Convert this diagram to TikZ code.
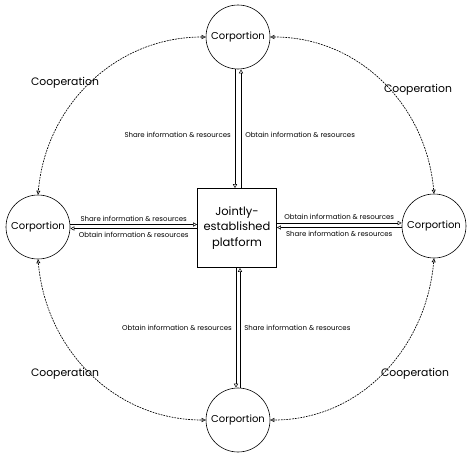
\documentclass[tikz,border=0pt]{standalone}
\usepackage{fontspec}
\setmainfont{Poppins}
\usetikzlibrary{arrows.meta}
\begin{document}
\begin{tikzpicture}[x=1pt,y=-1pt,
  corp/.style={draw, circle, line width=0.6pt, minimum size=64pt, inner sep=0pt, font=\fontsize{10}{11}\selectfont},
  plat/.style={draw, line width=0.6pt, minimum width=79pt, minimum height=79pt, inner sep=0pt, align=center, font=\fontsize{11.5}{15.5}\selectfont},
  flow/.style={line width=0.5pt, -{Triangle[open, length=4pt, width=4pt]}},
  coop/.style={line width=0.65pt, dash pattern=on 1.8pt off 1pt, {Triangle[open, length=4pt, width=4pt]}-{Triangle[open, length=4pt, width=4pt]}},
  lab/.style={font=\fontsize{7}{8}\selectfont, inner sep=1pt},
  clab/.style={font=\fontsize{10.8}{12}\selectfont}]
\useasboundingbox (0,0) rectangle (474,458);
\node[corp] (top) at (238,37) {Corportion};
\node[corp] (left) at (38,227) {Corportion};
\node[corp] (right) at (434,226) {Corportion};
\node[corp] (bot) at (238,420) {Corportion};
\node[plat] (box) at (237,228) {Jointly-\\established\\platform};
% vertical top
\draw[flow] ([xshift=-3pt]top.south) -- ([xshift=-3pt]top.south |- box.north)
  node[lab, pos=0.55, left=3pt] {Share information \& resources};
\draw[flow] ([xshift=3pt]top.south |- box.north) -- ([xshift=3pt]top.south)
  node[lab, pos=0.45, right=3pt] {Obtain information \& resources};
% vertical bottom
\draw[flow] ([xshift=-2pt]bot.north |- box.south) -- ([xshift=-2pt]bot.north)
  node[lab, pos=0.5, left=3pt] {Obtain information \& resources};
\draw[flow] ([xshift=2pt]bot.north) -- ([xshift=2pt]bot.north |- box.south)
  node[lab, pos=0.5, right=3pt] {Share information \& resources};
% horizontal left
\draw[flow] ([yshift=2.5pt]left.east) -- ([yshift=2.5pt]left.east -| box.west)
  node[lab, midway, above=2pt] {Share information \& resources};
\draw[flow] ([yshift=-1.5pt]left.east -| box.west) -- ([yshift=-1.5pt]left.east)
  node[lab, midway, below=2pt] {Obtain information \& resources};
% horizontal right
\draw[flow] ([yshift=3pt]right.west -| box.east) -- ([yshift=3pt]right.west)
  node[lab, midway, above=2pt] {Obtain information \& resources};
\draw[flow] ([yshift=-1.5pt]right.west) -- ([yshift=-1.5pt]right.west -| box.east)
  node[lab, midway, below=2pt] {Share information \& resources};
% cooperation arcs
\draw[coop] (top.west) to[out=180, in=85] (left.north);
\draw[coop] (top.east) to[out=0, in=95] (right.north);
\draw[coop] (left.south) to[out=-85, in=180] (bot.west);
\draw[coop] (right.south) to[out=-95, in=0] (bot.east);
\node[clab] (c1) at (65,83) {Cooperation};
\node[clab] (c2) at (418,90) {Cooperation};
\node[clab] (c3) at (65,374) {Cooperation};
\node[clab] (c4) at (415,374) {Cooperation};
\end{tikzpicture}
\end{document}
